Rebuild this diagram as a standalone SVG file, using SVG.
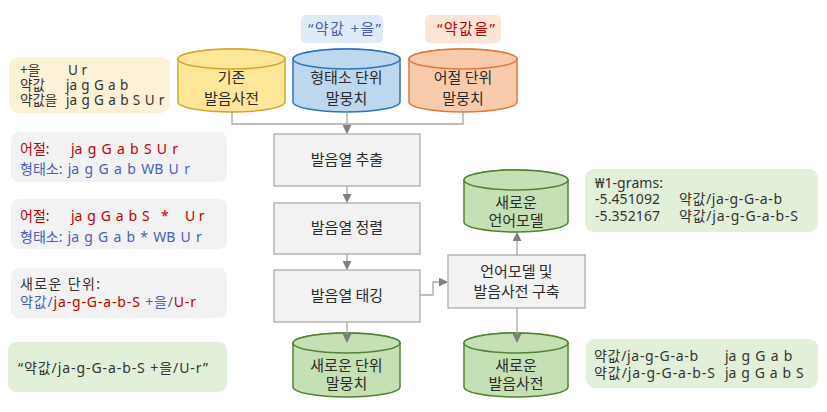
<svg xmlns="http://www.w3.org/2000/svg" width="827" height="412" viewBox="0 0 827 412">
<defs>
<style>
text{font-family:"Noto Sans","Noto Sans CJK KR",sans-serif;}
.n{font-family:"Noto Sans CJK KR","Noto Sans",sans-serif;font-size:15px;fill:#2b2b2b;text-anchor:middle;}
.s{font-size:14px;fill:#333;}
.a{font-size:13.5px;fill:#333;}
.red{fill:#c00000;}
.blue{fill:#4a5fb5;}
.proc{fill:#f2f2f2;stroke:#a6a6a6;stroke-width:1.2;}
.conn{fill:none;stroke:#a6a6a6;stroke-width:1.3;}
</style>
<marker id="ah" viewBox="0 0 10 10" refX="9" refY="5" markerWidth="9" markerHeight="9" markerUnits="userSpaceOnUse" orient="auto">
<path d="M0,0 L10,5 L0,10 z" fill="#7f7f7f"/>
</marker>
</defs>

<!-- label boxes -->
<g id="label-morph">
<rect x="301" y="15" width="82" height="28" rx="5" fill="#deebf7"/>
<text x="308" y="34" textLength="73" lengthAdjust="spacing" style="font-size:15px;fill:#4a5fb5">“약값 +을”</text>
</g>
<g id="label-eojeol">
<rect x="425" y="15" width="76" height="28" rx="5" fill="#fbe5d6"/>
<text x="437" y="34" textLength="58" lengthAdjust="spacing" style="font-size:15px;fill:#c00000">“약값을”</text>
</g>

<!-- cylinders -->
<g id="dict-existing">
<path d="M178,59 A53.5,10 0 0 1 285,59 V102 A53.5,10 0 0 1 178,102 Z" fill="#ffe699" stroke="#d4a72c" stroke-width="1.5"/>
<ellipse cx="231.5" cy="59" rx="53.5" ry="10" fill="#ffe699" stroke="#d4a72c" stroke-width="1.5"/>
<text x="231.5" y="83" class="n">기존</text>
<text x="231.5" y="104" class="n">발음사전</text>
</g>
<g id="corpus-morph">
<path d="M293,59 A53.5,10 0 0 1 400,59 V102 A53.5,10 0 0 1 293,102 Z" fill="#bdd7ee" stroke="#2e75b6" stroke-width="1.5"/>
<ellipse cx="346.5" cy="59" rx="53.5" ry="10" fill="#bdd7ee" stroke="#2e75b6" stroke-width="1.5"/>
<text x="346.5" y="83" class="n">형태소 단위</text>
<text x="346.5" y="104" class="n">말뭉치</text>
</g>
<g id="corpus-eojeol">
<path d="M409,59 A54,10 0 0 1 517,59 V102 A54,10 0 0 1 409,102 Z" fill="#f8cbad" stroke="#e0783a" stroke-width="1.5"/>
<ellipse cx="463" cy="59" rx="54" ry="10" fill="#f8cbad" stroke="#e0783a" stroke-width="1.5"/>
<text x="463" y="83" class="n">어절 단위</text>
<text x="463" y="104" class="n">말뭉치</text>
</g>
<g id="lm-new">
<path d="M464,180 A52,10 0 0 1 568,180 V222 A52,10 0 0 1 464,222 Z" fill="#c5e0b4" stroke="#548235" stroke-width="1.5"/>
<ellipse cx="516" cy="180" rx="52" ry="10" fill="#c5e0b4" stroke="#548235" stroke-width="1.5"/>
<text x="516" y="208" class="n">새로운</text>
<text x="516" y="226" class="n">언어모델</text>
</g>
<g id="dict-new">
<path d="M464,343 A52,10 0 0 1 568,343 V387 A52,10 0 0 1 464,387 Z" fill="#c5e0b4" stroke="#548235" stroke-width="1.5"/>
<ellipse cx="516" cy="343" rx="52" ry="10" fill="#c5e0b4" stroke="#548235" stroke-width="1.5"/>
<text x="516" y="371" class="n">새로운</text>
<text x="516" y="389" class="n">발음사전</text>
</g>
<g id="corpus-new">
<path d="M293,343 A53.5,10 0 0 1 400,343 V387 A53.5,10 0 0 1 293,387 Z" fill="#c5e0b4" stroke="#548235" stroke-width="1.5"/>
<ellipse cx="346.5" cy="343" rx="53.5" ry="10" fill="#c5e0b4" stroke="#548235" stroke-width="1.5"/>
<text x="346.5" y="371" class="n">새로운 단위</text>
<text x="346.5" y="389" class="n">말뭉치</text>
</g>

<!-- process boxes -->
<g id="extract">
<rect x="274" y="134" width="146" height="52" class="proc"/>
<text x="347" y="165" class="n">발음열 추출</text>
</g>
<g id="align">
<rect x="274" y="203" width="146" height="51" class="proc"/>
<text x="347" y="233" class="n">발음열 정렬</text>
</g>
<g id="tag">
<rect x="274" y="270" width="146" height="52" class="proc"/>
<text x="347" y="301" class="n">발음열 태깅</text>
</g>
<g id="build">
<rect x="448" y="255" width="137" height="53" class="proc"/>
<text x="516.5" y="277" class="n">언어모델 및</text>
<text x="516.5" y="297" class="n">발음사전 구축</text>
</g>

<!-- connectors -->
<g id="connectors">
<path d="M232,112 V124 H463 V112" class="conn"/>
<path d="M347,112 V133" class="conn" marker-end="url(#ah)"/>
<path d="M347,186 V202" class="conn" marker-end="url(#ah)"/>
<path d="M347,254 V269" class="conn" marker-end="url(#ah)"/>
<path d="M347,322 V342" class="conn" marker-end="url(#ah)"/>
<path d="M420,295 H433 V282 H447" class="conn" marker-end="url(#ah)"/>
<path d="M517,255 V233" class="conn" marker-end="url(#ah)"/>
<path d="M517,308 V342" class="conn" marker-end="url(#ah)"/>
</g>

<!-- annotation boxes -->
<g id="note-dict">
<rect x="9" y="57" width="161" height="56" rx="9" fill="#fdf1d7"/>
<text class="a" x="20" y="75">+을</text><text class="a" x="68" y="75">U r</text>
<text class="a" x="20" y="90">약값</text><text class="a" x="66" y="90" word-spacing="0.8">ja g G a b</text>
<text class="a" x="20" y="105">약값을</text><text class="a" x="66" y="105" word-spacing="0.85">ja g G a b S U r</text>
</g>
<g id="note-extract">
<rect x="11" y="132" width="216" height="50" rx="8" fill="#f2f2f2"/>
<text class="s red" x="20" y="154">어절:</text><text class="s red" x="71" y="154" word-spacing="1.6">ja g G a b S U r</text>
<text class="s blue" x="20" y="174" word-spacing="1.7">형태소: ja g G a b WB U r</text>
</g>
<g id="note-align">
<rect x="11" y="199" width="216" height="50" rx="8" fill="#f2f2f2"/>
<text class="s red" x="20" y="221">어절:</text><text class="s red" x="71" y="221" word-spacing="1.2">ja g G a b S</text><text class="s red" x="161" y="221">*</text><text class="s red" x="185" y="221">U r</text>
<text class="s blue" x="20" y="242" word-spacing="1.55">형태소: ja g G a b * WB U r</text>
</g>
<g id="note-tag">
<rect x="11" y="268" width="216" height="50" rx="8" fill="#f2f2f2"/>
<text class="s" x="20" y="289" textLength="80" lengthAdjust="spacing">새로운 단위:</text>
<text class="s" x="20" y="307" textLength="176" lengthAdjust="spacing"><tspan class="blue">약값/</tspan><tspan class="red">ja-g-G-a-b-S</tspan><tspan class="blue"> +을/</tspan><tspan class="red">U-r</tspan></text>
</g>
<g id="note-corpus">
<rect x="8" y="342" width="219" height="50" rx="8" fill="#e2efd9"/>
<text class="s" x="18" y="373" textLength="190" lengthAdjust="spacing">“약값/ja-g-G-a-b-S +을/U-r”</text>
</g>
<g id="note-lm">
<rect x="585" y="169" width="233" height="63" rx="9" fill="#e2efd9"/>
<text class="s" x="595" y="188" textLength="68" lengthAdjust="spacing">₩1-grams:</text>
<text class="s" x="595" y="204" textLength="65" lengthAdjust="spacing">-5.451092</text><text class="s" x="679" y="204" textLength="103" lengthAdjust="spacing">약값/ja-g-G-a-b</text>
<text class="s" x="595" y="221" textLength="65" lengthAdjust="spacing">-5.352167</text><text class="s" x="679" y="221" textLength="119" lengthAdjust="spacing">약값/ja-g-G-a-b-S</text>
</g>
<g id="note-dictnew">
<rect x="586" y="339" width="232" height="49" rx="9" fill="#e2efd9"/>
<text class="s" x="594" y="361" textLength="104" lengthAdjust="spacing">약값/ja-g-G-a-b</text><text class="s" x="725" y="361" word-spacing="1.5">ja g G a b</text>
<text class="s" x="594" y="378" textLength="121" lengthAdjust="spacing">약값/ja-g-G-a-b-S</text><text class="s" x="725" y="378" word-spacing="1.2">ja g G a b S</text>
</g>
</svg>
